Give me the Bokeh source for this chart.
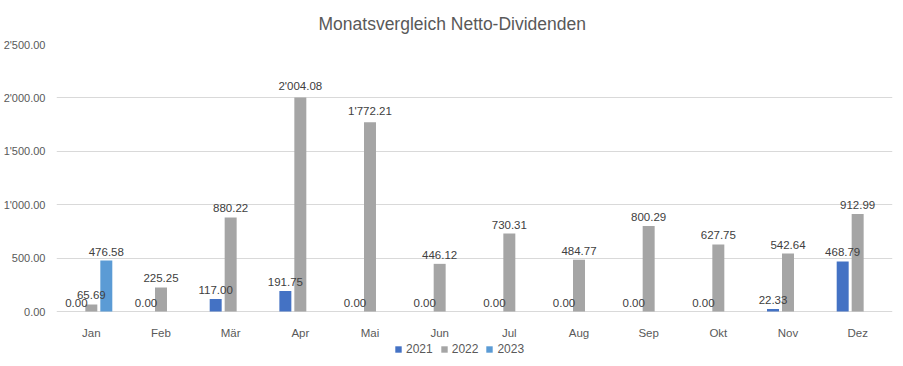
from bokeh.plotting import figure
from bokeh.models import (ColumnDataSource, FactorRange, Range1d, FixedTicker,
                          Legend, LegendItem, LabelSet)
from bokeh.core.properties import value
from bokeh.transform import dodge
from bokeh.embed import file_html
from bokeh.resources import INLINE

months = ["Jan", "Feb", "Mär", "Apr", "Mai", "Jun", "Jul", "Aug", "Sep", "Okt", "Nov", "Dez"]
v2021 = [0.00, 0.00, 117.00, 191.75, 0.00, 0.00, 0.00, 0.00, 0.00, 0.00, 22.33, 468.79]
v2022 = [65.69, 225.25, 880.22, 2004.08, 1772.21, 446.12, 730.31, 484.77, 800.29, 627.75, 542.64, 912.99]
v2023_months = ["Jan"]
v2023 = [476.58]
y_ticks = [0, 500, 1000, 1500, 2000, 2500]
series_names = ["2021", "2022", "2023"]
colors = ["#4472C4", "#A5A5A5", "#5B9BD5"]


def fmt(v):
    s = f"{v:,.2f}"
    return s.replace(",", "'")


FONT = "Liberation Sans"
TXT = "#595959"

# frame extends below zero to make room for category labels and legend
plot_px = 267
below_px = 46
y_top = y_ticks[-1]
y_bottom = -y_top * below_px / plot_px

p = figure(x_range=FactorRange(*months, range_padding=0), y_range=Range1d(y_bottom, y_top),
           frame_width=836, frame_height=plot_px + below_px, output_backend="svg",
           toolbar_location=None,
           min_border_left=48, min_border_right=3, min_border_top=44, min_border_bottom=0)
p.title.text = "Monatsvergleich Netto-Dividenden"
p.title.align = "left"
p.title.offset = 262
p.title.standoff = 22
p.title.text_font = FONT
p.title.text_font_size = "17.5px"
p.title.text_font_style = "normal"
p.title.text_color = TXT
p.outline_line_color = None

src21 = ColumnDataSource(dict(x=months, y=v2021, lab=[fmt(v) for v in v2021]))
src22 = ColumnDataSource(dict(x=months, y=v2022, lab=[fmt(v) for v in v2022]))
src23 = ColumnDataSource(dict(x=v2023_months, y=v2023, lab=[fmt(v) for v in v2023]))
srcm = ColumnDataSource(dict(x=months, y=[0] * len(months)))

off = 0.215
w = 0.172
r21 = p.vbar(x=dodge("x", -off, range=p.x_range), top="y", width=w, source=src21,
             color=colors[0], line_color=None)
r22 = p.vbar(x=dodge("x", 0, range=p.x_range), top="y", width=w, source=src22,
             color=colors[1], line_color=None)
r23 = p.vbar(x=dodge("x", off, range=p.x_range), top="y", width=w, source=src23,
             color=colors[2], line_color=None)

for s, o in [(src21, -off), (src22, 0), (src23, off)]:
    ls = LabelSet(x=dodge("x", o, range=p.x_range), y="y", text="lab", source=s,
                  text_align="center", text_baseline="bottom", y_offset=5,
                  text_font=value(FONT), text_font_size=value("11.5px"),
                  text_color="#404040")
    p.add_layout(ls)

# category labels under the baseline
p.add_layout(LabelSet(x="x", y="y", text="x", source=srcm, text_align="center",
                      text_baseline="middle", y_offset=-21,
                      text_font=value(FONT), text_font_size=value("11.5px"),
                      text_color=TXT))

p.yaxis.ticker = FixedTicker(ticks=y_ticks)
p.yaxis.major_label_overrides = {t: fmt(t) for t in y_ticks}
p.yaxis.axis_line_color = None
p.yaxis.major_tick_line_color = None
p.yaxis.minor_tick_line_color = None
p.yaxis.major_label_text_font = FONT
p.yaxis.major_label_text_font_size = "11px"
p.yaxis.major_label_text_color = TXT
p.yaxis.major_label_standoff = 5

p.xaxis.visible = False
p.xgrid.grid_line_color = None
p.ygrid.grid_line_color = "#D9D9D9"
p.ygrid.ticker = FixedTicker(ticks=y_ticks)

legend = Legend(items=[LegendItem(label=series_names[0], renderers=[r21]),
                       LegendItem(label=series_names[1], renderers=[r22]),
                       LegendItem(label=series_names[2], renderers=[r23])],
                orientation="horizontal", location=(338, 1),
                border_line_color=None, background_fill_alpha=0,
                glyph_width=8, glyph_height=8, label_text_font=FONT,
                label_text_font_size="12px", label_text_color=TXT,
                label_standoff=4, spacing=7, padding=0, margin=0,
                label_height=12, label_text_line_height=1.0)
p.add_layout(legend, "center")

open("out.html", "w").write(file_html(p, INLINE))
